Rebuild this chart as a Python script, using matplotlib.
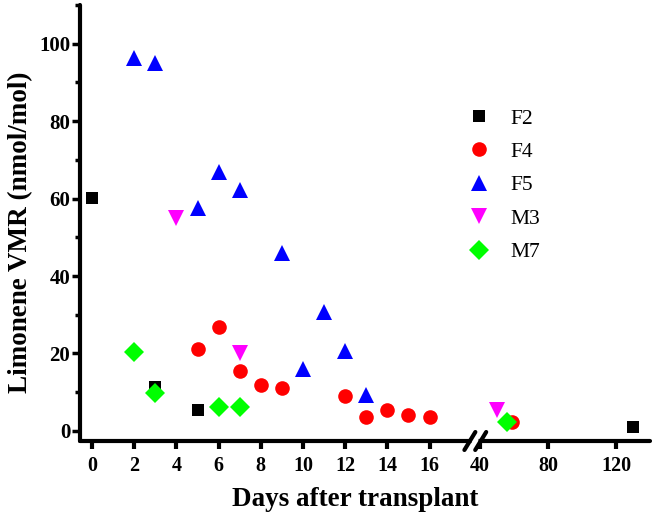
import numpy as np
import matplotlib
matplotlib.use("Agg")
import matplotlib.pyplot as plt
from matplotlib.ticker import FixedLocator, MultipleLocator

# data (days, nmol/mol)
f2_days = [0, 3, 5, 130]
f2_vmr = [60.2, 11.3, 5.5, 1.0]

f4_days = [5, 6, 7, 8, 9, 12, 13, 14, 15, 16, 59]
f4_vmr = [21.1, 26.9, 15.5, 11.8, 11.1, 9.0, 3.6, 5.3, 4.1, 3.6, 2.3]

f5_days = [2, 3, 5, 6, 7, 9, 10, 11, 12, 13]
f5_vmr = [96.2, 95.0, 57.7, 66.8, 62.1, 46.0, 16.0, 30.6, 20.6, 9.3]

m3_days = [4, 7, 50]
m3_vmr = [55.0, 20.2, 5.3]

m7_days = [2, 3, 6, 7, 56]
m7_vmr = [20.4, 9.9, 6.3, 6.2, 2.4]

x_ticks = [0, 2, 4, 6, 8, 10, 12, 14, 16, 40, 80, 120]

# broken axis: 0-17 linear, then compressed stretch from 30 on
slope2 = 0.0805
xp = [-100, 17, 30, 1000]
fp = [-100, 17, 18.4 - 10 * slope2, 18.4 + 960 * slope2]


def fwd(x):
    return np.interp(x, xp, fp)


def inv(u):
    return np.interp(u, fp, xp)


plt.rcParams['font.family'] = ['Liberation Serif', 'DejaVu Serif']

fig = plt.figure(figsize=(6.55, 5.13), dpi=100)
ax = fig.add_axes([80 / 655, 1 - 441 / 513, 570 / 655, 436 / 513])
ax.set_xscale('function', functions=(fwd, inv))

ax.plot(f2_days, f2_vmr, 's', color='black', ms=8.5, mew=0, label='F2')
ax.plot(f4_days, f4_vmr, 'o', color='#ff0000', ms=10.5, mew=0, label='F4')
ax.plot(f5_days, f5_vmr, '^', color='#0000ff', ms=11.5, mew=0, label='F5')
ax.plot(m3_days, m3_vmr, 'v', color='#ff00ff', ms=11.5, mew=0, label='M3')
ax.plot(m7_days, m7_vmr, 'D', color='#00ff00', ms=10.5, mew=0, label='M7')

ax.set_xlim(-0.57, 140)
ax.set_ylim(-2.6, 110)

ax.xaxis.set_major_locator(FixedLocator(x_ticks))
ax.xaxis.set_minor_locator(FixedLocator([]))
ax.set_xticklabels([str(t) for t in x_ticks])
ax.yaxis.set_major_locator(MultipleLocator(20))
ax.yaxis.set_minor_locator(MultipleLocator(10))

for side in ['top', 'right']:
    ax.spines[side].set_visible(False)
for side in ['left', 'bottom']:
    ax.spines[side].set_linewidth(3)
    ax.spines[side].set_capstyle('round')

ax.tick_params(axis='x', which='major', direction='out', length=6, width=3,
               pad=5, labelsize=14.5)
ax.tick_params(axis='y', which='major', direction='out', length=6, width=2.5,
               pad=1, labelsize=15)
ax.tick_params(axis='y', which='minor', direction='out', length=3.5, width=2.5)
for lab in ax.get_xticklabels() + ax.get_yticklabels():
    lab.set_fontweight('bold')

ax.set_xlabel('Days after transplant', fontsize=19.5, fontweight='bold', labelpad=8)
ax.set_ylabel('Limonene VMR (nmol/mol)', fontsize=19.5, fontweight='bold', labelpad=4)
ax.xaxis.label.set_x(0.483)
ax.yaxis.label.set_y(0.479)

# break marks on the x axis
ax.plot([0.6855, 0.6975], [0, 0], transform=ax.transAxes, color='white',
        lw=5, clip_on=False, zorder=5, solid_capstyle='butt')
for cx in [0.684, 0.703]:
    ax.plot([cx - 0.0096, cx + 0.0096], [-0.0206, 0.0206], transform=ax.transAxes,
            color='black', lw=3, clip_on=False, zorder=6, solid_capstyle='round')

ax.legend(loc='upper left', bbox_to_anchor=(468.6 / 655, 1 - 108.5 / 513),
          bbox_transform=fig.transFigure, frameon=False, fontsize=15.5,
          handlelength=1, handletextpad=0.95, labelspacing=0.62,
          borderpad=0, borderaxespad=0, numpoints=1)

fig.savefig('out.png', dpi=100)
